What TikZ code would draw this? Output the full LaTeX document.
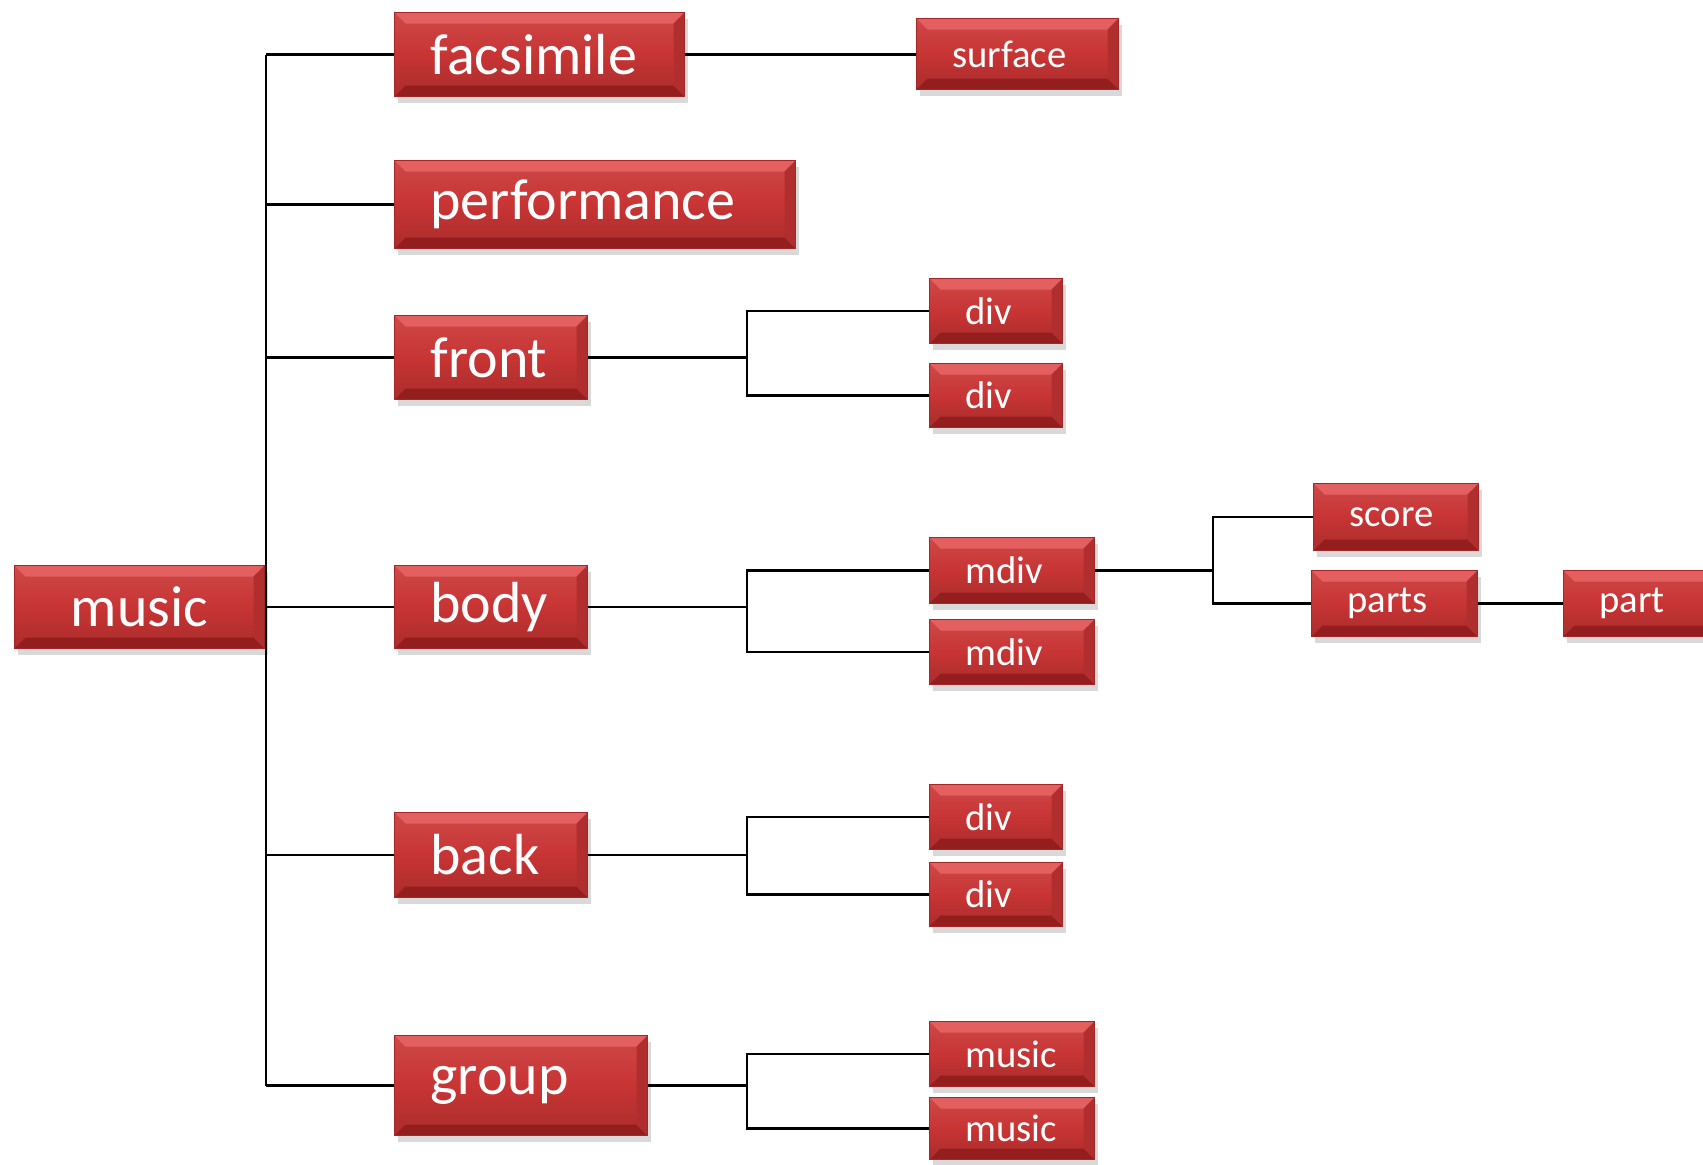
\documentclass[tikz,border=0pt]{standalone}
\usepackage{fontspec}
\setmainfont{Carlito}
\usetikzlibrary{positioning, shadows}
\definecolor{boxred}{RGB}{200, 52, 52}
\definecolor{boxlight}{RGB}{228, 96, 96}
\definecolor{boxdark}{RGB}{148, 30, 30}
\definecolor{boxedge}{RGB}{165, 38, 38}

\tikzset{
  box/.style={anchor=north west, draw=boxedge, line width=0.6pt,
    top color=boxred!90!white, bottom color=boxred!85!black, middle color=boxred,
    text=white, align=left, inner xsep=0.72cm, inner ysep=0pt,
    drop shadow={opacity=0.3, shadow xshift=0.06cm, shadow yshift=-0.12cm},
    path picture={
      \fill[boxlight] (path picture bounding box.north west) -- (path picture bounding box.north east)
        -- ([shift={(-0.22cm,-0.22cm)}]path picture bounding box.north east)
        -- ([shift={(0.22cm,-0.22cm)}]path picture bounding box.north west) -- cycle;
      \fill[boxdark] (path picture bounding box.south west) -- (path picture bounding box.south east)
        -- ([shift={(-0.22cm,0.22cm)}]path picture bounding box.south east)
        -- ([shift={(0.22cm,0.22cm)}]path picture bounding box.south west) -- cycle;
      \fill[boxred!88!black] (path picture bounding box.north east) -- (path picture bounding box.south east)
        -- ([shift={(-0.22cm,0.22cm)}]path picture bounding box.south east)
        -- ([shift={(-0.22cm,-0.22cm)}]path picture bounding box.north east) -- cycle;
    }},
  bigbox/.style={box, font=\fontsize{33}{36}\selectfont},
  smallbox/.style={box, font=\fontsize{22}{24}\selectfont},
  boxsize/.style 2 args={minimum width=#1*0.02cm, minimum height=#2*0.02cm, text width=#1*0.02cm-1.44cm},
  link/.style={line width=1.6pt, black}
}

\begin{document}
\begin{tikzpicture}[x=0.02cm, y=-0.02cm]
  \useasboundingbox (0,0) rectangle (1703,1165);
  \clip (0,0) rectangle (1703,1165);

  % root
  \node[bigbox, boxsize={250}{83}, align=center] (music) at (14,565) {music};

  % children of music
  \node[bigbox, boxsize={290}{84}] (facsimile) at (394,12) {facsimile};
  \node[bigbox, boxsize={401}{88}] (performance) at (394,160) {performance};
  \node[bigbox, boxsize={193}{84}] (front) at (394,315) {front};
  \node[bigbox, boxsize={193}{83}] (body) at (394,565) {body};
  \node[bigbox, boxsize={193}{85}] (back) at (394,812) {back};
  \node[bigbox, boxsize={253}{100}] (group) at (394,1035) {group};

  % third level
  \node[smallbox, boxsize={202}{71}] (surface) at (916,18) {surface};
  \node[smallbox, boxsize={133}{65}] (frontdivA) at (929,278) {div};
  \node[smallbox, boxsize={133}{64}] (frontdivB) at (929,363) {div};
  \node[smallbox, boxsize={165}{66}] (mdivA) at (929,537) {mdiv};
  \node[smallbox, boxsize={165}{65}] (mdivB) at (929,619) {mdiv};
  \node[smallbox, boxsize={133}{65}] (backdivA) at (929,784) {div};
  \node[smallbox, boxsize={133}{64}] (backdivB) at (929,862) {div};
  \node[smallbox, boxsize={165}{65}] (groupmusicA) at (929,1021) {music};
  \node[smallbox, boxsize={165}{62}] (groupmusicB) at (929,1097) {music};

  % below mdiv
  \node[smallbox, boxsize={165}{67}] (score) at (1313,483) {score};
  \node[smallbox, boxsize={166}{66}] (parts) at (1311,570) {parts};
  \node[smallbox, boxsize={160}{66}] (part) at (1563,570) {part};

  % forks
  \coordinate (spine) at (266,0);
  \coordinate (forkA) at (747,0);
  \coordinate (forkB) at (1213,0);

  % spine of music
  \draw[link] (spine |- facsimile.west) -- (spine |- group.west);
  \draw[link] (music.east) -- (body.west);
  \draw[link] (spine |- facsimile.west) -- (facsimile.west);
  \draw[link] (spine |- performance.west) -- (performance.west);
  \draw[link] (spine |- front.west) -- (front.west);
  \draw[link] (spine |- back.west) -- (back.west);
  \draw[link] (spine |- group.west) -- (group.west);

  % facsimile
  \draw[link] (facsimile.east) -- (facsimile.east -| surface.west);

  % front
  \draw[link] (front.east) -- (forkA |- front.east);
  \draw[link] (frontdivA.west) -- (forkA |- frontdivA.west) -- (forkA |- frontdivB.west) -- (frontdivB.west);

  % body
  \draw[link] (body.east) -- (forkA |- body.east);
  \draw[link] (mdivA.west) -- (forkA |- mdivA.west) -- (forkA |- mdivB.west) -- (mdivB.west);
  \draw[link] (mdivA.east) -- (forkB |- mdivA.east);
  \draw[link] (score.west) -- (forkB |- score.west) -- (forkB |- parts.west) -- (parts.west);
  \draw[link] (parts.east) -- (part.west);

  % back
  \draw[link] (back.east) -- (forkA |- back.east);
  \draw[link] (backdivA.west) -- (forkA |- backdivA.west) -- (forkA |- backdivB.west) -- (backdivB.west);

  % group
  \draw[link] (group.east) -- (forkA |- group.east);
  \draw[link] (groupmusicA.west) -- (forkA |- groupmusicA.west) -- (forkA |- groupmusicB.west) -- (groupmusicB.west);
\end{tikzpicture}
\end{document}
